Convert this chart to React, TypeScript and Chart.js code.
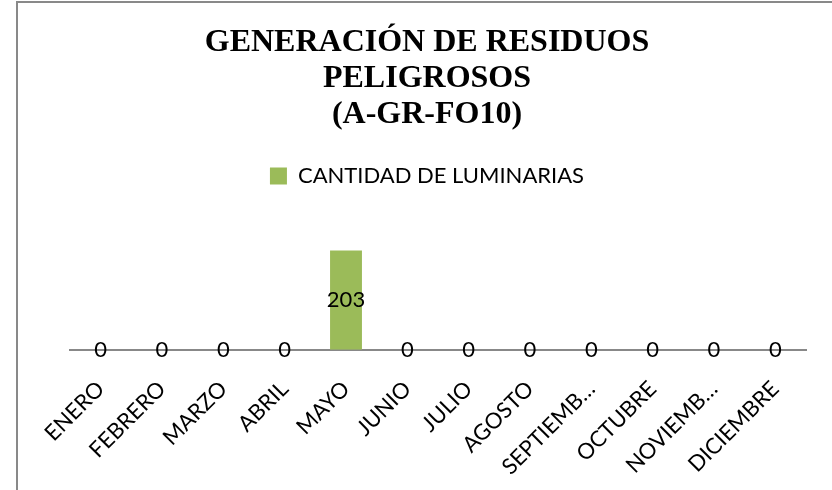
import React, { useEffect, useRef } from "react";
import { Chart, registerables } from "chart.js";

Chart.register(...registerables);

const titleLines = ["GENERACIÓN DE RESIDUOS", "PELIGROSOS", "(A-GR-FO10)"];
const seriesName = "CANTIDAD DE LUMINARIAS";
const months = [
  "ENERO",
  "FEBRERO",
  "MARZO",
  "ABRIL",
  "MAYO",
  "JUNIO",
  "JULIO",
  "AGOSTO",
  "SEPTIEMB…",
  "OCTUBRE",
  "NOVIEMB…",
  "DICIEMBRE",
];
const values = [0, 0, 0, 0, 203, 0, 0, 0, 0, 0, 0, 0];
const yMax = 312;

const SANS = "Lato";
const BAR_COLOR = "#9BBB59";

const valueLabels = {
  id: "valueLabels",
  afterDatasetsDraw(chart: any) {
    const ctx = chart.ctx;
    ctx.save();
    ctx.font = `22px ${SANS}`;
    ctx.fillStyle = "#000";
    ctx.textAlign = "center";
    ctx.textBaseline = "middle";
    chart.data.datasets.forEach((ds: any, di: number) => {
      const meta = chart.getDatasetMeta(di);
      meta.data.forEach((el: any, i: number) => {
        const v = ds.data[i];
        const y = (el.y + el.base) / 2;
        ctx.fillText(String(v), el.x, y);
      });
    });
    ctx.restore();
  },
};

export default function App() {
  const ref = useRef<HTMLCanvasElement | null>(null);
  useEffect(() => {
    if (!ref.current) return;
    const chart = new Chart(ref.current, {
      type: "bar",
      data: {
        labels: months,
        datasets: [
          {
            label: seriesName,
            data: values,
            backgroundColor: BAR_COLOR,
            borderWidth: 0,
            categoryPercentage: 1,
            barPercentage: 0.52,
          },
        ],
      },
      options: {
        animation: false,
        responsive: false,
        layout: { padding: { left: 48, right: 26, top: 0, bottom: -16 } },
        plugins: {
          title: {
            display: true,
            text: titleLines,
            color: "#000",
            font: { family: "Liberation Serif", size: 32, weight: "bold", lineHeight: 1.125 },
            padding: { top: 25, bottom: 0 },
          },
          legend: {
            display: true,
            labels: {
              color: "#000",
              font: { family: SANS, size: 22 },
              boxWidth: 17,
              boxHeight: 17,
              padding: 32,
            },
          },
          tooltip: { enabled: false },
        },
        scales: {
          x: {
            grid: { display: false, drawTicks: false },
            border: { display: true, color: "#888888", width: 2 },
            ticks: {
              color: "#000",
              font: { family: SANS, size: 22 },
              maxRotation: 45,
              minRotation: 45,
              padding: 26,
              autoSkip: false,
            },
          },
          y: {
            display: true,
            min: 0,
            max: yMax,
            grid: { display: false, drawTicks: false },
            border: { display: false },
            ticks: { display: false },
            afterFit: (scale: any) => {
              scale.width = 22;
            },
          },
        },
      },
      plugins: [valueLabels],
    });
    return () => chart.destroy();
  }, []);
  return (
    <div style={{ position: "absolute", left: 0, top: 0, width: 832, height: 490, background: "#fff", overflow: "hidden" }}>
      <div
        style={{
          position: "absolute",
          left: 16,
          top: 1,
          width: 900,
          height: 600,
          borderTop: "2px solid #898989",
          borderLeft: "2px solid #898989",
        }}
      />
      <canvas ref={ref} width={832} height={490} style={{ position: "absolute", left: 0, top: 0 }} />
    </div>
  );
}
